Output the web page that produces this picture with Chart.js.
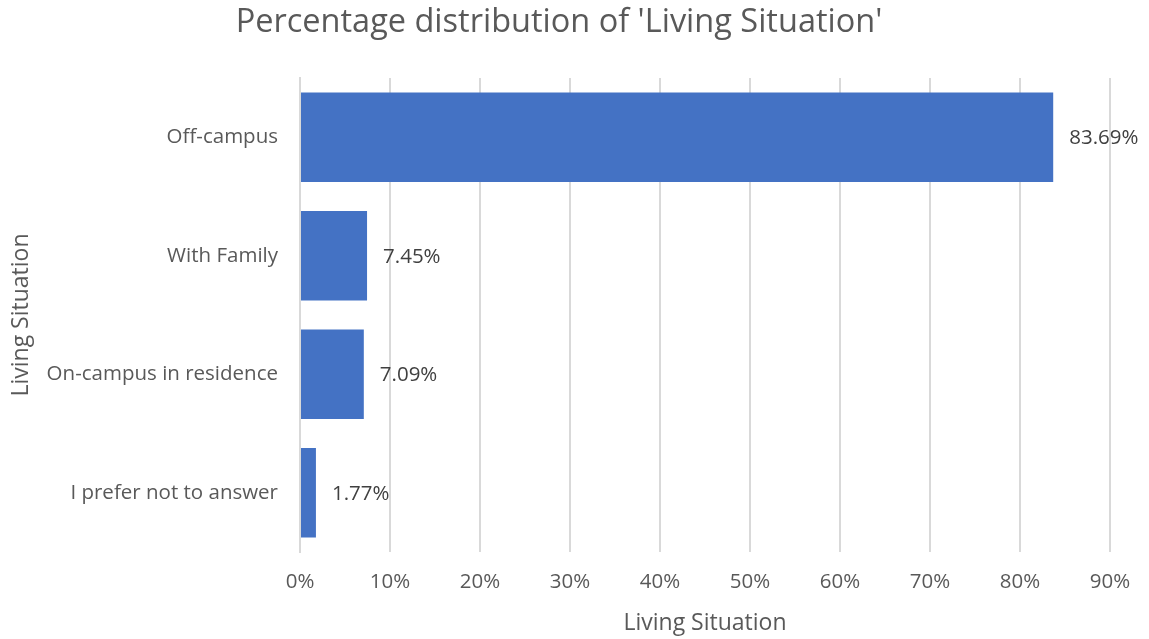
<!DOCTYPE html>
<html>
<head>
<meta charset="utf-8">
<script src="https://cdn.jsdelivr.net/npm/chart.js@4"></script>
<style>
    html, body { margin: 0; padding: 0; background: #fff; }
    #wrap { width: 1149px; height: 639px; position: relative; }
</style>
</head>
<body>
<div id="wrap"><canvas id="livingCanvas"></canvas></div>
<script>
var categories = ['Off-campus', 'With Family', 'On-campus in residence', 'I prefer not to answer'];
var percentages = [83.69, 7.45, 7.09, 1.77];
var xTicks = [0, 10, 20, 30, 40, 50, 60, 70, 80, 90];

var textGray = '#595959';
var fontName = "'Open Sans', 'DejaVu Sans', sans-serif";

// draws the value labels just right of each bar
var valueLabels = {
    id: 'valueLabels',
    afterDatasetsDraw: function (chart) {
        var ctx = chart.ctx;
        var meta = chart.getDatasetMeta(0);
        ctx.save();
        ctx.font = '20.5px ' + fontName;
        ctx.fillStyle = '#404040';
        ctx.textAlign = 'left';
        ctx.textBaseline = 'middle';
        meta.data.forEach(function (bar, i) {
            ctx.fillText(percentages[i].toFixed(2) + '%', bar.x + 16, bar.y + 1);
        });
        ctx.restore();
    }
};

var ctx = document.getElementById('livingCanvas').getContext('2d');
var livingChart = new Chart(ctx, {
    type: 'bar',
    data: {
        labels: categories,
        datasets: [{
            label: 'Living Situation',
            data: percentages,
            backgroundColor: '#4472C4',
            borderWidth: 0,
            categoryPercentage: 1.0,
            barPercentage: 0.755
        }]
    },
    options: {
        indexAxis: 'y',
        responsive: true,
        maintainAspectRatio: false,
        animation: false,
        layout: { padding: { left: 8, right: 39, top: 0, bottom: 2 } },
        plugins: {
            legend: { display: false },
            tooltip: { enabled: false },
            title: {
                display: true,
                text: "Percentage distribution of 'Living Situation'",
                color: textGray,
                font: { family: fontName, size: 32.5, weight: 'normal' },
                padding: { top: 3, bottom: 36 }
            }
        },
        scales: {
            x: {
                min: 0,
                max: 90,
                afterBuildTicks: function (scale) {
                    scale.ticks = xTicks.map(function (v) { return { value: v }; });
                },
                ticks: {
                    color: textGray,
                    font: { family: fontName, size: 20.5 },
                    padding: 18,
                    callback: function (v) { return v + '%'; }
                },
                grid: { color: '#D9D9D9', lineWidth: 2, drawTicks: false },
                border: { display: false },
                title: {
                    display: true,
                    text: 'Living Situation',
                    color: textGray,
                    font: { family: fontName, size: 23 },
                    padding: { top: 10, bottom: 0 }
                },
                afterFit: function (scale) { scale.height = 85; }
            },
            y: {
                ticks: {
                    color: textGray,
                    font: { family: fontName, size: 20.5 },
                    padding: 22
                },
                grid: { display: false, drawTicks: false },
                border: { display: true, color: '#D9D9D9', width: 2 },
                title: {
                    display: true,
                    text: 'Living Situation',
                    color: textGray,
                    font: { family: fontName, size: 23 },
                    padding: { top: 0, bottom: 0 }
                },
                afterFit: function (scale) { scale.width = 292; }
            }
        }
    },
    plugins: [valueLabels]
});
</script>
</body>
</html>
